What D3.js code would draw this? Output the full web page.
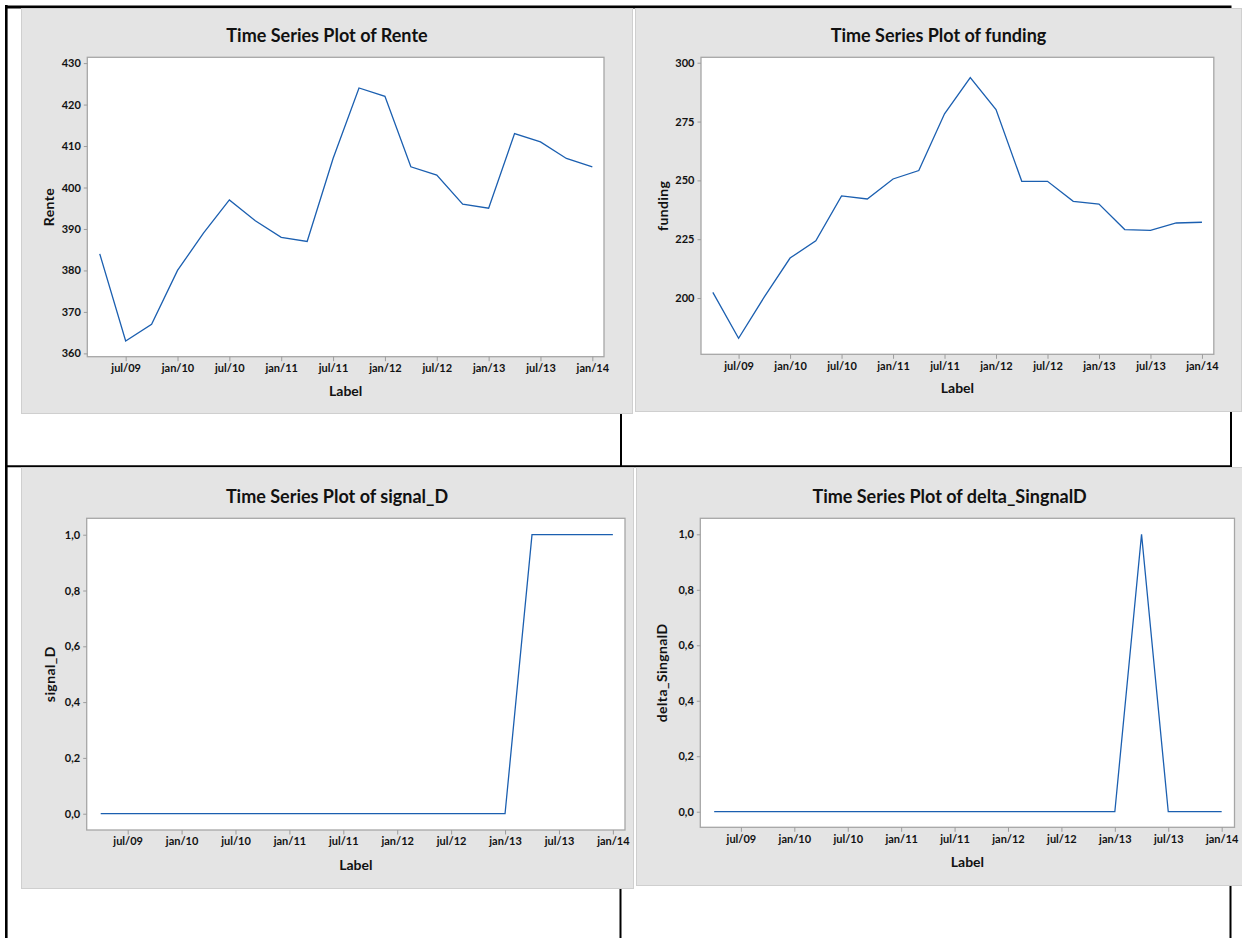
<!DOCTYPE html>
<html>
<head>
<meta charset="utf-8">
<script src="https://cdn.jsdelivr.net/npm/d3@7"></script>
<style>
  body { margin: 0; background: #ffffff; }
  svg { display: block; }
  text { font-family: Lato, "Open Sans", "DejaVu Sans", sans-serif; font-weight: 700; fill: #111; }
</style>
</head>
<body>
<svg id="chart" width="1242" height="938"></svg>
<script>
// Quarterly observations, apr/09 .. jan/14
const periods = ["apr/09","jul/09","oct/09","jan/10","apr/10","jul/10","oct/10","jan/11","apr/11","jul/11",
                 "oct/11","jan/12","apr/12","jul/12","oct/12","jan/13","apr/13","jul/13","oct/13","jan/14"];
const xTickLabels = ["jul/09","jan/10","jul/10","jan/11","jul/11","jan/12","jul/12","jan/13","jul/13","jan/14"];

const rente = [384, 363, 367, 380, 389, 397, 392, 388, 387, 407, 424, 422, 405, 403, 396, 395, 413, 411, 407, 405];
const funding = [202.4, 182.9, 200.5, 217.0, 224.3, 243.4, 242.1, 250.6, 254.2, 278.3,
                 293.7, 280.1, 249.6, 249.6, 241.1, 239.9, 229.1, 228.8, 231.9, 232.2];
const signalD = [0,0,0,0,0,0,0,0,0,0,0,0,0,0,0,0,1,1,1,1];
const deltaSignalD = [0,0,0,0,0,0,0,0,0,0,0,0,0,0,0,0,1,0,0,0];

const renteTicks = [360, 370, 380, 390, 400, 410, 420, 430];
const fundingTicks = [200, 225, 250, 275, 300];
const unitTicks = [0, 0.2, 0.4, 0.6, 0.8, 1.0];

const svg = d3.select("#chart");
const LINE = "#1b5fb0";
const commaFmt = d3.formatLocale({decimal: ",", thousands: ".", grouping: [3], currency: ["", ""]}).format(".1f");

// Table rules behind the four graph panels
const rules = [
  [6.3, 5, 6.3, 938, 2.6],
  [5, 7, 1231.5, 7, 3],
  [5, 466.3, 1231.5, 466.3, 2],
  [621, 414, 621, 466, 2],
  [1231, 412, 1231, 467, 2],
  [620.5, 888, 620.5, 938, 2],
  [1230.5, 885, 1230.5, 938, 2]
];
svg.selectAll("line.rule").data(rules).join("line")
  .attr("class", "rule")
  .attr("x1", d => d[0]).attr("y1", d => d[1])
  .attr("x2", d => d[2]).attr("y2", d => d[3])
  .attr("stroke", "#000").attr("stroke-width", d => d[4]);

const panels = [
  { title: "Time Series Plot of Rente", ylab: "Rente", values: rente, ticks: renteTicks, fmt: d3.format("d"),
    frame: [21, 8, 633, 414], box: [87.3, 57.3, 604, 356.7], xdom: [-0.48, 19.45], ydom: [359.2, 431.4],
    titleY: 35, labY: 390, ylabX: 48 },
  { title: "Time Series Plot of funding", ylab: "funding", values: funding, ticks: fundingTicks, fmt: d3.format("d"),
    frame: [635, 8, 1242, 412], box: [701, 57.3, 1213.8, 354.3], xdom: [-0.46, 19.46], ydom: [176.1, 302.3],
    titleY: 35, labY: 387, ylabX: 662 },
  { title: "Time Series Plot of signal_D", ylab: "signal_D", values: signalD, ticks: unitTicks, fmt: commaFmt,
    frame: [21, 467, 634, 889], box: [86.7, 518.3, 625, 830], xdom: [-0.52, 19.45], ydom: [-0.0584, 1.0588],
    titleY: 496, titleX: 337, labY: 864, ylabX: 49 },
  { title: "Time Series Plot of delta_SingnalD", ylab: "delta_SingnalD", values: deltaSignalD, ticks: unitTicks, fmt: commaFmt,
    frame: [636, 467, 1263, 886], box: [700.3, 518.3, 1234.5, 827.3], xdom: [-0.52, 19.48], ydom: [-0.0562, 1.0577],
    titleY: 496, titleX: 949.6, labY: 861, ylabX: 661.5 }
];

const xTickIdx = xTickLabels.map(l => periods.indexOf(l));

panels.forEach(p => {
  const [fx0, fy0, fx1, fy1] = p.frame;
  const [bx0, by0, bx1, by1] = p.box;
  const g = svg.append("g");

  g.append("rect")
    .attr("x", fx0 + 0.5).attr("y", fy0 + 0.5)
    .attr("width", fx1 - fx0 - 1).attr("height", fy1 - fy0 - 1)
    .attr("fill", "#e4e4e4").attr("stroke", "#cfcfcf").attr("stroke-width", 1);

  g.append("rect")
    .attr("x", bx0).attr("y", by0)
    .attr("width", bx1 - bx0).attr("height", by1 - by0)
    .attr("fill", "#ffffff").attr("stroke", "#a6a6a6").attr("stroke-width", 1.3);

  const x = d3.scaleLinear().domain(p.xdom).range([bx0, bx1]);
  const y = d3.scaleLinear().domain(p.ydom).range([by1, by0]);

  const xAxis = g.append("g").attr("transform", `translate(0,${by1})`)
    .call(d3.axisBottom(x).tickValues(xTickIdx).tickFormat(i => periods[i]).tickSize(4.5).tickPadding(3));
  const yAxis = g.append("g").attr("transform", `translate(${bx0},0)`)
    .call(d3.axisLeft(y).tickValues(p.ticks).tickFormat(p.fmt).tickSize(3.5).tickPadding(3));

  [xAxis, yAxis].forEach(a => {
    a.select(".domain").remove();
    a.selectAll(".tick line").attr("stroke", "#9c9c9c").attr("stroke-width", 1);
    a.selectAll(".tick text").attr("fill", "#111").style("font-size", "11px")
      .style("font-family", "Lato, 'Open Sans', sans-serif").style("font-weight", 700);
  });

  g.append("path")
    .datum(p.values)
    .attr("fill", "none")
    .attr("stroke", LINE)
    .attr("stroke-width", 1.3)
    .attr("stroke-linejoin", "miter")
    .attr("d", d3.line().x((d, i) => x(i)).y(d => y(d)));

  g.append("text")
    .attr("x", p.titleX !== undefined ? p.titleX : (fx0 + fx1) / 2)
    .attr("y", p.titleY)
    .attr("text-anchor", "middle").attr("dominant-baseline", "central")
    .style("font-size", "18px")
    .text(p.title);

  g.append("text")
    .attr("x", (bx0 + bx1) / 2).attr("y", p.labY)
    .attr("text-anchor", "middle").attr("dominant-baseline", "central")
    .style("font-size", "14px")
    .text("Label");

  g.append("text")
    .attr("transform", `translate(${p.ylabX},${(by0 + by1) / 2}) rotate(-90)`)
    .attr("text-anchor", "middle").attr("dominant-baseline", "central")
    .style("font-size", "14px")
    .style("letter-spacing", "0.4px")
    .text(p.ylab);
});
</script>
</body>
</html>
